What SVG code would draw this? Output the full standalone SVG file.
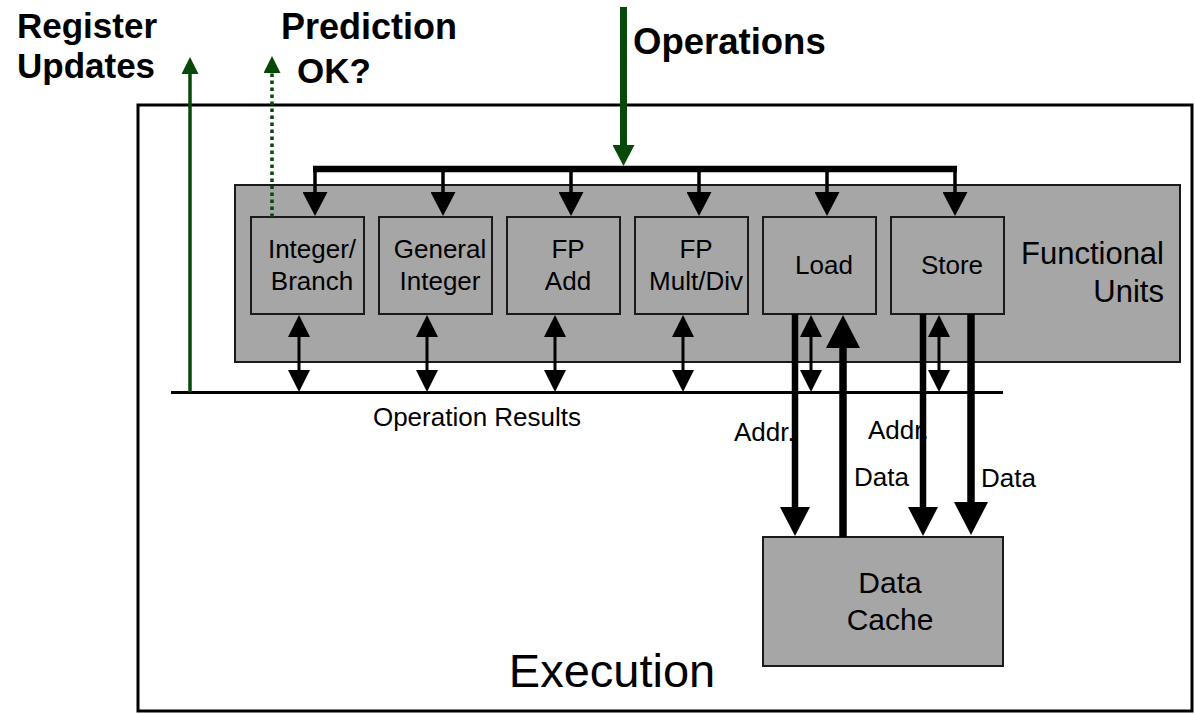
<svg xmlns="http://www.w3.org/2000/svg" width="1195" height="714" viewBox="0 0 1195 714">
  <style>
    .frame { fill: #ffffff; stroke: #000000; stroke-width: 3; }
    .gray { fill: #a6a6a6; stroke: #1a1a1a; stroke-width: 2; }
    .lbl { font-family: "Liberation Sans", Arial, sans-serif; fill: #000000; }
    .big { font-family: "Liberation Sans", Arial, sans-serif; font-weight: bold; font-size: 35px; fill: #000000; }
    .unit { font-size: 26px; text-anchor: middle; }
    .blk { fill: none; stroke: #000000; }
    .grn { fill: none; stroke: #074907; }
  </style>
  <defs>
    <marker id="mDrop" markerUnits="userSpaceOnUse" markerWidth="24" markerHeight="25" viewBox="0 0 24 25" refX="0" refY="12.5" orient="auto"><path d="M0,0 L24,12.5 L0,25 z" fill="#000"/></marker>
    <marker id="mBi" markerUnits="userSpaceOnUse" markerWidth="22" markerHeight="22" viewBox="0 0 22 22" refX="0" refY="11" orient="auto-start-reverse"><path d="M0,0 L22,11 L0,22 z" fill="#000"/></marker>
    <marker id="mAddr" markerUnits="userSpaceOnUse" markerWidth="29" markerHeight="30" viewBox="0 0 29 30" refX="0" refY="15" orient="auto"><path d="M0,0 L29,15 L0,30 z" fill="#000"/></marker>
    <marker id="mData" markerUnits="userSpaceOnUse" markerWidth="33" markerHeight="34" viewBox="0 0 33 34" refX="0" refY="17" orient="auto"><path d="M0,0 L33,17 L0,34 z" fill="#000"/></marker>
    <marker id="mGBig" markerUnits="userSpaceOnUse" markerWidth="21" markerHeight="22" viewBox="0 0 21 22" refX="0" refY="11" orient="auto"><path d="M0,0 L21,11 L0,22 z" fill="#074907"/></marker>
    <marker id="mG" markerUnits="userSpaceOnUse" markerWidth="17" markerHeight="17" viewBox="0 0 17 17" refX="0" refY="8.5" orient="auto"><path d="M0,0 L17,8.5 L0,17 z" fill="#074907"/></marker>
  </defs>

  <g id="execution">
    <rect class="frame" x="138" y="105" width="1054" height="606"/>
    <text class="lbl" x="612" y="687" font-size="47" text-anchor="middle">Execution</text>
  </g>

  <g id="functional-units">
    <rect class="gray" x="235" y="185" width="945" height="177"/>
    <text class="lbl" x="1164" y="264" font-size="31" text-anchor="end">Functional</text>
    <text class="lbl" x="1164" y="302" font-size="31" text-anchor="end">Units</text>
  </g>

  <g id="unit-integer-branch">
    <rect class="gray" x="251" y="217" width="113" height="97"/>
    <text class="lbl unit" x="312" y="258">Integer/</text>
    <text class="lbl unit" x="312" y="290">Branch</text>
  </g>
  <g id="unit-general-integer">
    <rect class="gray" x="379" y="217" width="113" height="97"/>
    <text class="lbl unit" x="440" y="258">General</text>
    <text class="lbl unit" x="440" y="290">Integer</text>
  </g>
  <g id="unit-fp-add">
    <rect class="gray" x="507" y="217" width="113" height="97"/>
    <text class="lbl unit" x="568" y="258">FP</text>
    <text class="lbl unit" x="568" y="290">Add</text>
  </g>
  <g id="unit-fp-multdiv">
    <rect class="gray" x="635" y="217" width="113" height="97"/>
    <text class="lbl unit" x="696" y="258">FP</text>
    <text class="lbl unit" x="696" y="290">Mult/Div</text>
  </g>
  <g id="unit-load">
    <rect class="gray" x="763" y="217" width="113" height="97"/>
    <text class="lbl unit" x="824" y="274">Load</text>
  </g>
  <g id="unit-store">
    <rect class="gray" x="891" y="217" width="113" height="97"/>
    <text class="lbl unit" x="952" y="274">Store</text>
  </g>

  <g id="data-cache">
    <rect class="gray" x="763" y="537" width="240" height="129"/>
    <text class="lbl" x="890" y="593" font-size="30" text-anchor="middle">Data</text>
    <text class="lbl" x="890" y="630" font-size="30" text-anchor="middle">Cache</text>
  </g>

  <g id="labels">
    <text class="big" x="17" y="38">Register</text>
    <text class="big" x="17" y="78">Updates</text>
    <text class="big" x="281" y="39" style="font-size:36px">Prediction</text>
    <text class="big" x="297" y="83">OK?</text>
    <text class="big" x="633" y="54" style="font-size:36.5px">Operations</text>
    <text class="lbl" x="477" y="426" font-size="26" text-anchor="middle">Operation Results</text>
    <text class="lbl" x="734" y="441" font-size="26">Addr.</text>
    <text class="lbl" x="868" y="439" font-size="26">Addr.</text>
    <text class="lbl" x="854" y="486" font-size="26">Data</text>
    <text class="lbl" x="981" y="487" font-size="26">Data</text>
  </g>

  <g id="connectors">
    <!-- operations bus -->
    <path class="blk" d="M313,169 H957" stroke-width="6.5"/>
    <g class="blk" stroke-width="3.5" marker-end="url(#mDrop)">
      <path d="M315,169 V192"/>
      <path d="M443,169 V192"/>
      <path d="M571,169 V192"/>
      <path d="M699,169 V192"/>
      <path d="M827,169 V192"/>
      <path d="M955,169 V192"/>
    </g>
    <!-- operation results bus -->
    <path class="blk" d="M171,392.5 H1003" stroke-width="3"/>
    <!-- bidirectional unit/result connectors -->
    <g class="blk" stroke-width="3" marker-start="url(#mBi)" marker-end="url(#mBi)">
      <path d="M299,337 V370"/>
      <path d="M427,337 V370"/>
      <path d="M555,337 V370"/>
      <path d="M683,337 V370"/>
      <path d="M811,337 V370"/>
      <path d="M939,337 V370"/>
    </g>
    <!-- load / store to data cache -->
    <path class="blk" d="M795,314 V507" stroke-width="6.5" marker-end="url(#mAddr)"/>
    <path class="blk" d="M843,537 V348" stroke-width="7.5" marker-end="url(#mData)"/>
    <path class="blk" d="M923,314 V507" stroke-width="6.5" marker-end="url(#mAddr)"/>
    <path class="blk" d="M971,314 V502" stroke-width="7.5" marker-end="url(#mData)"/>
    <!-- green signals -->
    <path class="grn" d="M623.5,7 V145" stroke-width="7" marker-end="url(#mGBig)"/>
    <path class="grn" d="M190,392 V74" stroke-width="3.5" marker-end="url(#mG)"/>
    <path class="grn" d="M272,217 V73" stroke-width="3.5" stroke-dasharray="3.5 3.5" marker-end="url(#mG)"/>
  </g>
</svg>
